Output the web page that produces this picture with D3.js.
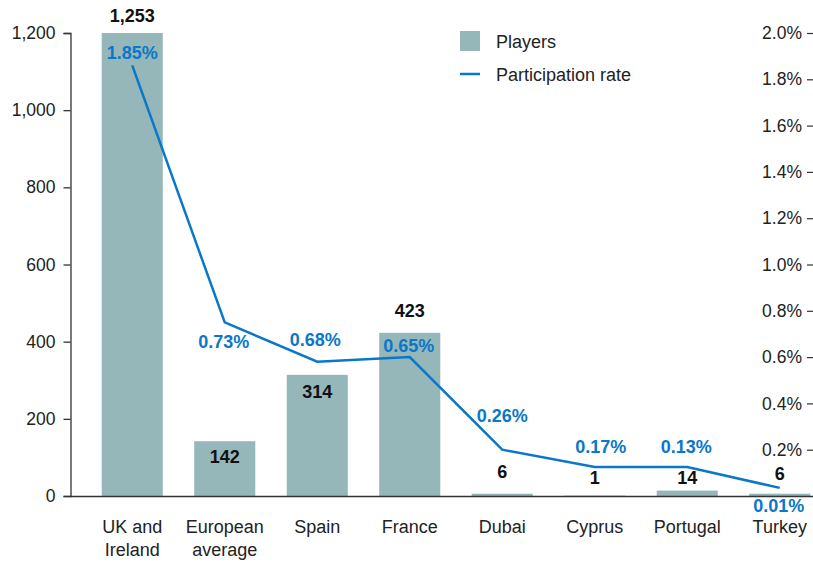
<!DOCTYPE html>
<html>
<head>
<meta charset="utf-8">
<script src="https://cdn.jsdelivr.net/npm/d3@7"></script>
<style>
  body { margin: 0; background: #fff; }
  text { font-family: "Liberation Sans", Arial, sans-serif; }
</style>
</head>
<body>
<div id="chart"></div>
<script>
// data
const categories = [["UK and", "Ireland"], ["European", "average"], ["Spain"], ["France"], ["Dubai"], ["Cyprus"], ["Portugal"], ["Turkey"]];
const players = [1253, 142, 314, 423, 6, 1, 14, 6];
const playerLabels = ["1,253", "142", "314", "423", "6", "1", "14", "6"];
const rates = [1.86, 0.75, 0.58, 0.60, 0.20, 0.125, 0.125, 0.035];   // where the line is drawn (%)
const rateLabels = ["1.85%", "0.73%", "0.68%", "0.65%", "0.26%", "0.17%", "0.13%", "0.01%"];
const leftTicks = [0, 200, 400, 600, 800, 1000, 1200];
const rightTicks = [0.2, 0.4, 0.6, 0.8, 1.0, 1.2, 1.4, 1.6, 1.8, 2.0];

// label placement (hand tuned like the original)
const playerDy = [-11.5, 22, 23, -16, -16, -11.5, -6.5, -13.5];
const rateDy = [-6, 26, -16, -5, -28, -14, -14, 24];
const rateDx = [0, -1, -2, -1, 0, 6, -1, -1];

const width = 813, height = 562;
const barColor = "#95b7ba";
const lineColor = "#0a77c9";
const axisColor = "#333";
const tickFont = "17.5px";

let svg = d3.select("#chart")
  .append("svg")
    .attr("width", width)
    .attr("height", height);

let x = d3.scaleBand()
  .domain(d3.range(categories.length))
  .range([86, 826])
  .paddingInner(0.34)
  .paddingOuter(0.17);

let y = d3.scaleLinear()
  .domain([0, 1200])
  .range([496, 33])
  .clamp(true);

let y2 = d3.scaleLinear()
  .domain([0, 2])
  .range([496, 33]);

// bars
svg.selectAll("rect.bar")
  .data(players)
  .enter()
  .append("rect")
    .attr("class", "bar")
    .attr("x", (d, i) => x(i))
    .attr("y", d => y(d))
    .attr("width", x.bandwidth())
    .attr("height", d => y(0) - y(d))
    .attr("fill", barColor);

// left axis
let leftAxis = svg.append("g")
  .attr("transform", "translate(70.5,0)")
  .call(d3.axisLeft(y).tickValues(leftTicks).tickSize(7).tickPadding(8).tickFormat(d3.format(",")));
leftAxis.selectAll("path, line").attr("stroke", axisColor).attr("stroke-width", 1.3);
leftAxis.selectAll("text").attr("font-size", tickFont).attr("fill", "#222").attr("font-family", "Liberation Sans, Arial, sans-serif");

// right axis (labels sit left of the short ticks)
let rightAxis = svg.append("g")
  .attr("transform", "translate(813,0)")
  .call(d3.axisLeft(y2).tickValues(rightTicks).tickSize(6).tickPadding(5).tickFormat(d => d.toFixed(1) + "%"));
rightAxis.select(".domain").remove();
rightAxis.selectAll("line").attr("stroke", axisColor).attr("stroke-width", 1.2);
rightAxis.selectAll("text").attr("font-size", tickFont).attr("fill", "#222").attr("font-family", "Liberation Sans, Arial, sans-serif");

// baseline
svg.append("line")
  .attr("x1", 70).attr("x2", 813)
  .attr("y1", y(0) + 0.5).attr("y2", y(0) + 0.5)
  .attr("stroke", axisColor)
  .attr("stroke-width", 1.3);

// category labels
let cat = svg.selectAll("text.cat")
  .data(categories)
  .enter()
  .append("text")
    .attr("class", "cat")
    .attr("x", (d, i) => x(i) + x.bandwidth() / 2)
    .attr("y", 533)
    .attr("text-anchor", "middle")
    .attr("font-size", "18px")
    .attr("fill", "#222");
cat.selectAll("tspan")
  .data(d => d)
  .enter()
  .append("tspan")
    .attr("x", function() { return d3.select(this.parentNode).attr("x"); })
    .attr("dy", (d, i) => i == 0 ? 0 : 23)
    .text(d => d);

// rate line
let line = d3.line()
  .x((d, i) => x(i) + x.bandwidth() / 2)
  .y(d => y2(d));
svg.append("path")
  .datum(rates)
  .attr("d", line)
  .attr("fill", "none")
  .attr("stroke", lineColor)
  .attr("stroke-width", 2.5);

// player value labels
svg.selectAll("text.pl")
  .data(players)
  .enter()
  .append("text")
    .attr("class", "pl")
    .attr("x", (d, i) => x(i) + x.bandwidth() / 2)
    .attr("y", (d, i) => y(d) + playerDy[i])
    .attr("text-anchor", "middle")
    .attr("font-size", "18px")
    .attr("font-weight", "bold")
    .attr("fill", "#111")
    .text((d, i) => playerLabels[i]);

// rate labels
svg.selectAll("text.rt")
  .data(rates)
  .enter()
  .append("text")
    .attr("class", "rt")
    .attr("x", (d, i) => x(i) + x.bandwidth() / 2 + rateDx[i])
    .attr("y", (d, i) => y2(d) + rateDy[i])
    .attr("text-anchor", "middle")
    .attr("font-size", "18px")
    .attr("font-weight", "bold")
    .attr("fill", lineColor)
    .text((d, i) => rateLabels[i]);

// legend
let legend = svg.append("g").attr("transform", "translate(460,31)");
legend.append("rect")
  .attr("width", 20).attr("height", 20)
  .attr("fill", barColor);
legend.append("text")
  .attr("x", 36).attr("y", 17)
  .attr("font-size", "18px").attr("fill", "#222")
  .text("Players");
legend.append("line")
  .attr("x1", 0).attr("x2", 20)
  .attr("y1", 43).attr("y2", 43)
  .attr("stroke", lineColor).attr("stroke-width", 2.5);
legend.append("text")
  .attr("x", 36).attr("y", 50)
  .attr("font-size", "18px").attr("fill", "#222")
  .text("Participation rate");
</script>
</body>
</html>
